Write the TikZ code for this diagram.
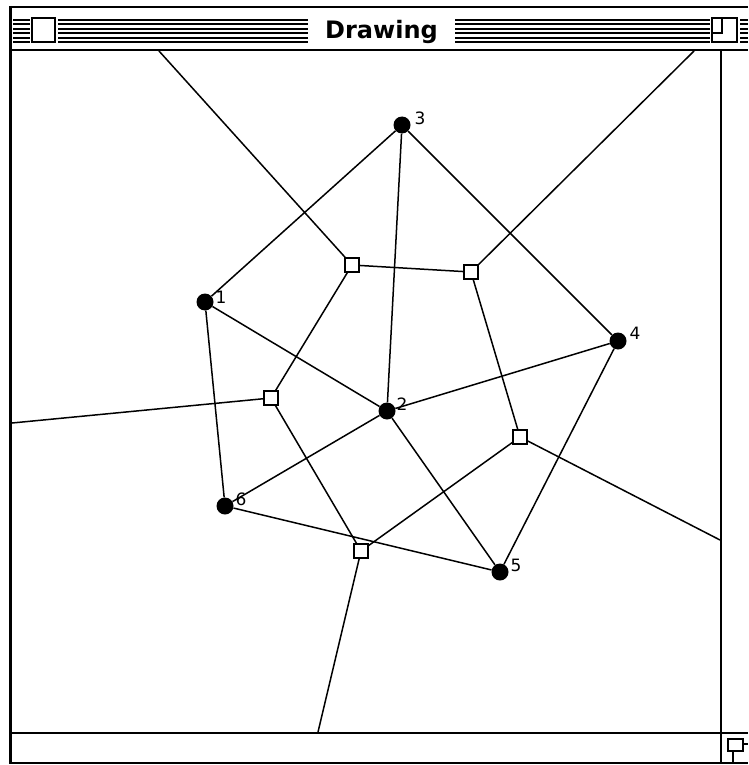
\documentclass[tikz,border=0pt]{standalone}
\usepackage{fontspec}
\newfontfamily\titlefont{DejaVu Sans}
\newfontfamily\labfont{DejaVu Sans}
\begin{document}
\begin{tikzpicture}[x=1pt,y=-1pt,
  frame/.style={line width=2pt,black},
  stripe/.style={line width=2pt,black},
  edge/.style={line width=1.5pt,black},
  dot/.style={circle,fill=black,inner sep=0pt,minimum size=17pt},
  vbox/.style={rectangle,draw=black,line width=1.5pt,fill=white,inner sep=0pt,minimum size=14pt},
  lab/.style={font=\labfont\fontsize{17}{17}\selectfont,inner sep=0pt}]
\useasboundingbox (0,0) rectangle (748,765);
\fill[white] (0,0) rectangle (748,765);
% title bar stripes
\foreach \y in {20,24.4,28.8,33.2,37.6,42}{
  \draw[stripe] (13,\y) -- (30,\y);
  \draw[stripe] (58,\y) -- (308,\y);
  \draw[stripe] (455,\y) -- (710,\y);
  \draw[stripe] (740,\y) -- (748,\y);
}
% close box
\draw[line width=2pt,fill=white] (32,18) rectangle (55,42);
% zoom box
\draw[line width=2pt,fill=white] (712,18) rectangle (737,42);
\draw[line width=2pt] (722,18) -- (722,33) -- (712,33);
% title
\node[font=\titlefont\bfseries\fontsize{24}{24}\selectfont,inner sep=0pt] (title) at (381.5,32) {Drawing};
% window frame
\draw[line width=2.5pt] (10,7) -- (748,7);
\draw[line width=3.5pt] (10.5,6) -- (10.5,764);
\draw[frame] (10,763) -- (748,763);
\draw[frame] (12,50) -- (748,50);
\draw[frame] (721,50) -- (721,763);
\draw[frame] (12,733) -- (748,733);
% grow box
\draw[line width=1.5pt] (733,751) -- (733,763);
\draw[line width=1.5pt] (743,744) -- (748,744);
\draw[line width=1.5pt,fill=white] (728,739) rectangle (743,751);

% boundary ends of Voronoi edges
\coordinate (bA) at (159,51);
\coordinate (bB) at (694,51);
\coordinate (bC) at (12,423);
\coordinate (bD) at (720,540);
\coordinate (bE) at (318,732);

% sites
\node[dot] (p1) at (205,302) {};
\node[dot] (p2) at (387,411) {};
\node[dot] (p3) at (402,125) {};
\node[dot] (p4) at (618,341) {};
\node[dot] (p5) at (500,572) {};
\node[dot] (p6) at (225,506) {};
% Voronoi vertices
\node[vbox] (vA) at (352,265) {};
\node[vbox] (vB) at (471,272) {};
\node[vbox] (vC) at (271,398) {};
\node[vbox] (vD) at (520,437) {};
\node[vbox] (vE) at (361,551) {};

% labels
\node[lab] (l1) at (221,297) {1};
\node[lab] (l2) at (402,404) {2};
\node[lab] (l3) at (420,118) {3};
\node[lab] (l4) at (635,333) {4};
\node[lab] (l5) at (516,565) {5};
\node[lab] (l6) at (241,499) {6};

% Delaunay edges
\draw[edge] (p3) -- (p1);
\draw[edge] (p3) -- (p2);
\draw[edge] (p3) -- (p4);
\draw[edge] (p1) -- (p2);
\draw[edge] (p1) -- (p6);
\draw[edge] (p2) -- (p4);
\draw[edge] (p2) -- (p6);
\draw[edge] (p2) -- (p5);
\draw[edge] (p4) -- (p5);
\draw[edge] (p6) -- (p5);
% Voronoi edges
\draw[edge] (vA) -- (vB);
\draw[edge] (vA) -- (vC);
\draw[edge] (vB) -- (vD);
\draw[edge] (vC) -- (vE);
\draw[edge] (vD) -- (vE);
\draw[edge] (vA) -- (bA);
\draw[edge] (vB) -- (bB);
\draw[edge] (vC) -- (bC);
\draw[edge] (vD) -- (bD);
\draw[edge] (vE) -- (bE);
\end{tikzpicture}
\end{document}
